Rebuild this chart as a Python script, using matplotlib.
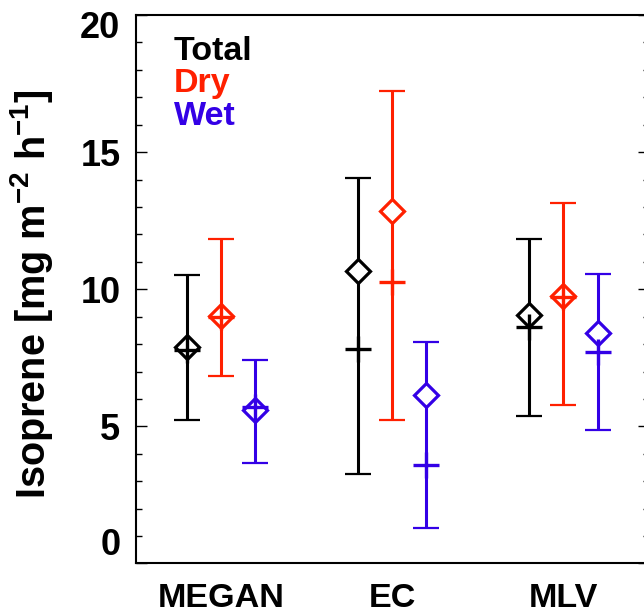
#isoprene flux comparison: MEGAN vs EC vs MLV, split into total/dry/wet season

import numpy as np
import matplotlib
matplotlib.use('Agg')
import matplotlib.pyplot as plt
import matplotlib.transforms as mtrans

plt.rcParams['font.family'] = ['Liberation Sans', 'DejaVu Sans']
plt.rcParams['font.weight'] = 'bold'
plt.rcParams['mathtext.fontset'] = 'custom'
plt.rcParams['mathtext.rm'] = 'Liberation Sans:bold'
plt.rcParams['mathtext.default'] = 'rm'

#data
methods = ['MEGAN', 'EC', 'MLV']
series = ['Total', 'Dry', 'Wet']
colors = ['black', '#ff2000', '#3300e6']

total_mean = [7.88, 10.65, 9.07]
total_median = [7.80, 7.83, 8.62]
total_low = [5.25, 3.25, 5.37]
total_high = [10.53, 14.05, 11.84]

dry_mean = [9.03, 12.87, 9.74]
dry_median = [9.00, 10.25, 9.70]
dry_low = [6.85, 5.25, 5.79]
dry_high = [11.82, 17.22, 13.15]

wet_mean = [5.59, 6.13, 8.40]
wet_median = [5.70, 3.60, 7.72]
wet_low = [3.68, 1.30, 4.88]
wet_high = [7.43, 8.09, 10.56]

means = [total_mean, dry_mean, wet_mean]
medians = [total_median, dry_median, wet_median]
lows = [total_low, dry_low, wet_low]
highs = [total_high, dry_high, wet_high]
offsets = [-0.2, 0.0, 0.2]

fig = plt.figure(figsize=(6.44, 6.13), dpi=100)
ax = fig.add_axes([0.2107, 0.0808, 0.7968, 0.8947])

x = np.arange(1, len(methods)+1)
for i in range(len(series)):
  xs = x + offsets[i]
  mean = np.array(means[i])
  lo = mean - np.array(lows[i])
  hi = np.array(highs[i]) - mean
  ax.errorbar(xs, mean, yerr=[lo, hi], fmt='none', ecolor=colors[i],
              elinewidth=2.2, capsize=9.5, capthick=1.6, zorder=2)
  ax.plot(xs, mean, 'D', ms=12, mfc='white', mec=colors[i], mew=2.3,
          linestyle='none', zorder=3)
  ax.plot(xs, medians[i], '+', ms=19, mec=colors[i], mew=2.4,
          linestyle='none', zorder=4)

ax.set_xlim(0.5, 3.5)
ax.set_ylim(0, 20)
ax.set_xticks(x)
ax.set_xticklabels(methods, fontsize=24.6, fontweight='bold')
ax.tick_params(axis='x', length=0, pad=14)
ax.set_yticks([0, 5, 10, 15, 20])
ax.set_yticks(np.arange(0, 21, 1), minor=True)
ax.tick_params(axis='y', which='both', direction='in', left=True, right=True,
               labelsize=26, pad=11, width=1.0)
ax.tick_params(axis='y', which='major', length=8)
ax.tick_params(axis='y', which='minor', length=4.3)
for lab in ax.get_yticklabels():
  lab.set_fontweight('bold')
ylabs = ax.get_yticklabels()
ylabs[0].set_va('bottom')
ylabs[-1].set_va('top')
ylabs[-1].set_transform(ylabs[-1].get_transform() +
                        mtrans.ScaledTranslation(0, 3/72., fig.dpi_scale_trans))

for s in ax.spines.values():
  s.set_linewidth(1.5)

ax.set_ylabel('Isoprene [mg m$^{-2}$ h$^{-1}$]', fontsize=28.5, fontweight='bold')
ax.yaxis.set_label_coords(-0.157, 0.49)

#legend as coloured text
ypos = [0.918, 0.859, 0.800]
for i in range(len(series)):
  ax.text(0.0746, ypos[i], series[i], color=colors[i], fontsize=24.5,
          fontweight='bold', transform=ax.transAxes, va='baseline')

plt.savefig('out.png', dpi=100)
